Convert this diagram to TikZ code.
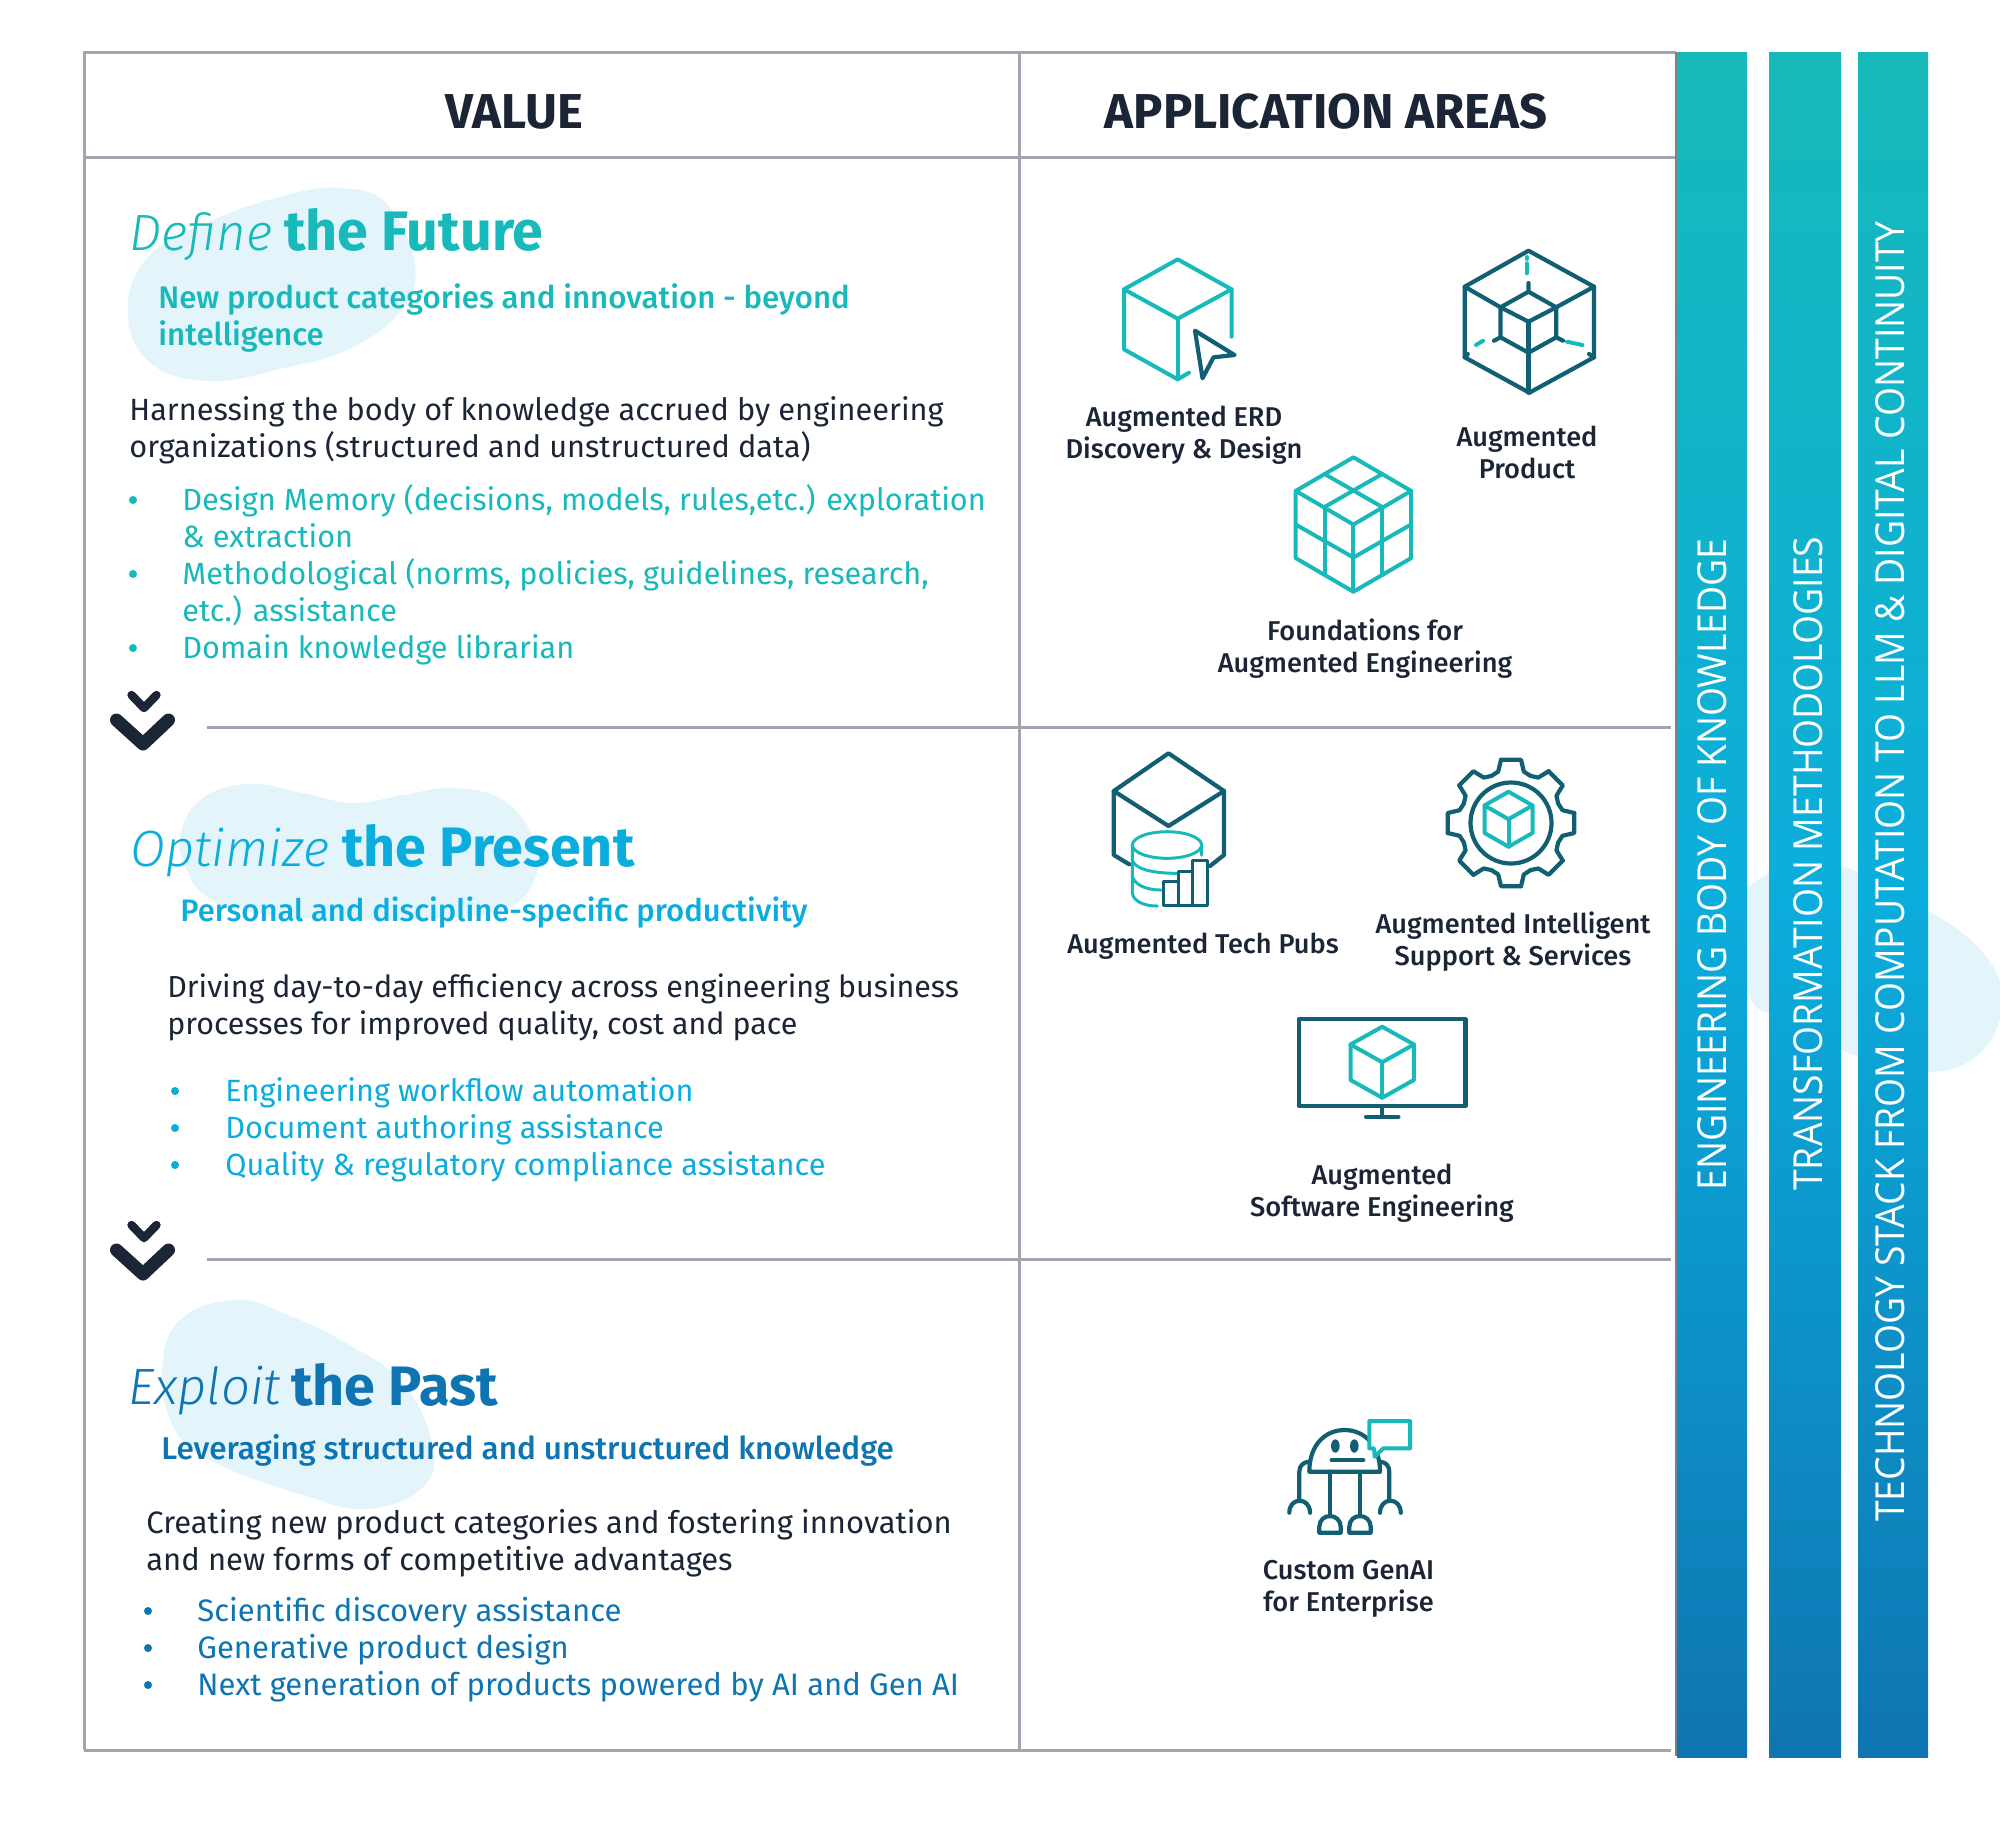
\documentclass[tikz,border=0pt]{standalone}
\usepackage{fontspec}
\setmainfont{Fira Sans}
\newfontfamily\lightfont{Fira Sans Light}
\newfontfamily\mediumfont{Fira Sans Medium}
\newfontfamily\barfont[FakeStretch=0.932]{Open Sans}
\definecolor{tealc}{HTML}{17B9BA}
\definecolor{bluec}{HTML}{0BADDC}
\definecolor{deepc}{HTML}{0F75B2}
\definecolor{inkc}{HTML}{1B2536}
\definecolor{petrolc}{HTML}{125F73}
\definecolor{gridc}{HTML}{A2A5AD}
\definecolor{blobc}{HTML}{E3F5FB}
\tikzset{
	gridline/.style={draw=gridc,line width=1.5pt},
	blob/.style={fill=blobc,draw=none},
	headtxt/.style={anchor=base,inner sep=0pt,text=inkc,font=\fontsize{24.5}{28}\selectfont\bfseries},
	titletxt/.style={anchor=base west,inner sep=0pt,font=\fontsize{25.5}{30}\selectfont},
	boldtitle/.style={font=\fontsize{27.8}{30}\selectfont\bfseries},
	subtxt/.style={anchor=base west,inner sep=0pt,align=left,font=\fontsize{#1}{18.5}\selectfont\mediumfont},
	subtxt/.default=15.6,
	bodytxt/.style={anchor=base west,inner sep=0pt,align=left,text=inkc,font=\fontsize{#1}{18.5}\selectfont},
	bodytxt/.default=15.35,
	pointtxt/.style={anchor=base west,inner sep=0pt,align=left,font=\fontsize{#1}{18.5}\selectfont},
	pointtxt/.default=15.35,
	icontxt/.style={anchor=base,inner sep=0pt,align=center,text=inkc,font=\fontsize{13.6}{16}\selectfont\mediumfont},
	bartxt/.style={anchor=base west,rotate=90,inner sep=0pt,text=white,font=\fontsize{20}{24}\selectfont\barfont},
	tealline/.style={draw=tealc,line width=2pt,line join=round,line cap=round},
	thinteal/.style={draw=tealc,line width=1.5pt,line join=round,line cap=round},
	petline/.style={draw=petrolc,line width=2.1pt,line join=round,line cap=round},
	thinpet/.style={draw=petrolc,line width=1.5pt,line join=round},
	gradbar/.style={top color=tealc,bottom color=deepc,middle color=bluec,draw=none}
}
\newcommand{\isocube}[5][tealline]{
	\draw[#1] ({#2},{#3}) -- ({#2+#4},{#3+.25*(#5-#3)}) -- ({#2+#4},{#3+.75*(#5-#3)}) -- ({#2},{#5}) -- ({#2-#4},{#3+.75*(#5-#3)}) -- ({#2-#4},{#3+.25*(#5-#3)}) -- cycle;
	\draw[#1] ({#2-#4},{#3+.25*(#5-#3)}) -- ({#2},{#3+.5*(#5-#3)}) -- ({#2+#4},{#3+.25*(#5-#3)});
	\draw[#1] ({#2},{#3+.5*(#5-#3)}) -- ({#2},{#5});
}
\begin{document}
\begin{tikzpicture}[x=0.5pt,y=-0.5pt]
	\useasboundingbox (0,0) rectangle (2000,1822);
	% blobs behind the text
	\fill[blob] plot[smooth cycle,tension=.7] coordinates {(128,316) (147,258) (213,220) (287,195) (340,188) (387,204) (415,266) (400,312) (347,350) (280,369) (213,381) (153,365)};
	\fill[blob] plot[smooth cycle,tension=.7] coordinates {(180,837) (200,800) (247,784) (303,793) (353,803) (403,795) (453,788) (503,800) (533,837) (537,873) (510,907) (453,918) (353,920) (253,913) (207,897) (187,870)};
	\fill[blob] plot[smooth cycle,tension=.7] coordinates {(162,1373) (180,1320) (237,1300) (293,1317) (353,1347) (403,1383) (431,1440) (425,1485) (368,1509) (303,1495) (220,1465) (177,1433)};
	\fill[blob] plot[smooth cycle,tension=.7] coordinates {(1743,933) (1748,887) (1827,863) (1927,910) (1983,953) (2002,1000) (1983,1050) (1933,1072) (1867,1060) (1783,1020) (1750,997)};
	% table
	\draw[gridline] (84,1750) -- (84,52) -- (1676,52);
	\draw[gridline] (84,157) -- (1676,157);
	\draw[gridline] (1019,52) -- (1019,1750);
	\draw[gridline] (207,727) -- (1671,727);
	\draw[gridline] (207,1259) -- (1671,1259);
	\draw[gridline] (84,1750) -- (1671,1750);
	% bars
	\draw[gridline,draw=gray] (1676,52) -- (1676,1756);
	\foreach \xa/\xb in {1677/1747,1769/1841,1858/1928}{
		\shade[gradbar] (\xa,52) rectangle (\xb,1757);
	}
	\node[bartxt] (engbar) at (1726,1191) {ENGINEERING BODY OF KNOWLEDGE};
	\node[bartxt] (trabar) at (1822,1191) {TRANSFORMATION METHODOLOGIES};
	\node[bartxt] (techbar) at (1904,1522) {TECHNOLOGY STACK FROM COMPUTATION TO LLM \& DIGITAL CONTINUITY};
	% header
	\node[headtxt] (valhead) at (514,128.5) {VALUE};
	\node[headtxt] (apphead) at (1326,128.5) {APPLICATION AREAS};
	% first row
	\node[titletxt,text=tealc] (futtitle) at (129,250) {\lightfont\itshape Define};
	\node[titletxt,boldtitle,text=tealc] (futbold) at (284,250) {the Future};
	\node[subtxt,text=tealc] (futsub) at (158,345) {New product categories and innovation - beyond\\intelligence};
	\node[bodytxt] (futbody) at (129,457.5) {Harnessing the body of knowledge accrued by engineering\\organizations (structured and unstructured data)};
	\node[pointtxt,text=tealc] (futpts) at (182,658.5) {Design Memory (decisions, models, rules,etc.) exploration\\\& extraction\\Methodological (norms, policies, guidelines, research,\\etc.) assistance\\Domain knowledge librarian};
	\foreach \yy in {500,574,648}{
		\fill[tealc] (133,\yy) circle (4);
	}
	% second row
	\node[titletxt,text=bluec] (pretitle) at (130,866) {\lightfont\itshape Optimize};
	\node[titletxt,boldtitle,text=bluec] (prebold) at (342,866) {the Present};
	\node[subtxt=15.5,text=bluec] (presub) at (180,921) {Personal and discipline-specific productivity};
	\node[bodytxt=15.2] (prebody) at (167,1034) {Driving day-to-day efficiency across engineering business\\processes for improved quality, cost and pace};
	\node[pointtxt,text=bluec] (prepts) at (225,1175) {Engineering workflow automation\\Document authoring assistance\\Quality \& regulatory compliance assistance};
	\foreach \yy in {1091,1128,1165}{
		\fill[bluec] (175,\yy) circle (4);
	}
	% third row
	\node[titletxt,text=deepc] (pastitle) at (128,1404) {\lightfont\itshape Exploit};
	\node[titletxt,boldtitle,text=deepc] (pasbold) at (291,1405) {the Past};
	\node[subtxt=15.75,text=deepc] (passub) at (161,1459) {Leveraging structured and unstructured knowledge};
	\node[bodytxt=15.47] (pasbody) at (146,1570) {Creating new product categories and fostering innovation\\and new forms of competitive advantages};
	\node[pointtxt=15.53,text=deepc] (paspts) at (197,1695.5) {Scientific discovery assistance\\Generative product design\\Next generation of products powered by AI and Gen AI};
	\foreach \yy in {1611,1648,1685}{
		\fill[deepc] (148,\yy) circle (4);
	}
	% chevrons
	\foreach \dy in {0,530}{
		\draw[inkc,line width=4.2pt,line cap=round,line join=round] (131.5,{695+\dy}) -- (144,{708+\dy}) -- (156.5,{695+\dy});
		\draw[inkc,line width=6.5pt,line cap=round,line join=round] (116.5,{720+\dy}) -- (143,{744+\dy}) -- (168.5,{720+\dy});
	}
	% cube and cursor
	\draw[tealline] (1231.5,336.7) -- (1231.5,289.3) -- (1177.7,259.3) -- (1124,289.3) -- (1124,349.3) -- (1177.7,379.3) -- (1189,372.7);
	\draw[tealline] (1124,289.3) -- (1177.7,318.7) -- (1231.5,289.3);
	\draw[tealline] (1177.7,318.7) -- (1177.7,379.3);
	\draw[petline] (1195,330.7) -- (1234.5,355) -- (1213.5,357.3) -- (1202.5,378.3) -- cycle;
	\node[icontxt] (erdlab) at (1184,458) {Augmented ERD\\Discovery \& Design};
	% cube inside a cube
	\begin{scope}[shift={(-3,0)}]
		\draw[petline] (1470.8,354) -- (1467.7,357.3) -- (1532.3,392.7) -- (1597,357.3) -- (1592,354);
		\draw[petline] (1467.7,357.3) -- (1467.7,286.7) -- (1531.5,250.7) -- (1597,286.7) -- (1597,357.3);
		\draw[petline] (1467.7,286.7) -- (1503.5,307.3);
		\draw[petline] (1597,286.7) -- (1559.2,307.3);
		\draw[petline] (1531.5,283) -- (1531.5,291.7) -- (1559.2,307.3) -- (1559.2,337.3) -- (1531.5,352.7) -- (1503.5,337.3) -- (1503.5,307.3) -- (1531.5,291.7);
		\draw[petline] (1503.5,307.3) -- (1531.5,321.7) -- (1559.2,307.3);
		\draw[petline] (1531.5,321.7) -- (1531.5,392.7);
		\draw[petline] (1497,340.7) -- (1503.5,337.3);
		\draw[petline] (1566,340.7) -- (1559.2,337.3);
		\draw[tealline] (1529.6,263.3) -- (1529.6,273.3);
		\draw[tealline] (1530,257) -- (1530,259);
		\draw[tealline] (1479,345) -- (1486,340.7);
		\draw[tealline] (1570,341.7) -- (1585.4,345);
	\end{scope}
	\node[icontxt] (prodlab) at (1527,478) {Augmented\\Product};
	% block cube
	\begin{scope}[shift={(-2,0)}]
		\isocube{1355.4}{457.3}{57.7}{591.7}
		\draw[tealline] (1326.5,474) -- (1384.2,507);
		\draw[tealline] (1384.2,474) -- (1326.5,507);
		\draw[tealline] (1326.5,507) -- (1326.5,575);
		\draw[tealline] (1384.2,507) -- (1384.2,575);
		\draw[tealline] (1297.7,524.5) -- (1355.4,557.5) -- (1413,524.5);
	\end{scope}
	\node[icontxt] (foundlab) at (1365,672) {Foundations for\\Augmented Engineering};
	% cube and database
	\draw[petline] (1129.2,864.3) -- (1113.8,855) -- (1113.8,791) -- (1168.5,753.3) -- (1224,791) -- (1224,855) -- (1210,866);
	\draw[petline] (1113.8,791) -- (1168.5,826) -- (1224,791);
	\draw[thinteal] (1167,845) circle [x radius=34.6,y radius=13.3];
	\draw[thinteal] (1132.3,845) -- (1132.3,892) .. controls (1132.3,900) and (1142,906) .. (1157.3,906);
	\draw[thinteal] (1132.3,860) .. controls (1134,868) and (1150,873.3) .. (1176.5,873.3);
	\draw[thinteal] (1132.3,876) .. controls (1134,884) and (1145,890) .. (1161,890);
	\draw[thinteal] (1201.6,845) -- (1201.6,855);
	\draw[thinpet,fill=white] (1163.8,881.7) rectangle (1178.5,905);
	\draw[thinpet,fill=white] (1178.5,871.7) rectangle (1192.7,905);
	\draw[thinpet,fill=white] (1192.7,860) rectangle (1207.3,905);
	\node[icontxt] (publab) at (1203,953) {Augmented Tech Pubs};
	% gear
	\begin{scope}[shift={(1511,823)}]
		\foreach \a in {0,45,...,315}{
			\draw[petline] ({\a-9}:64) -- ({\a+9}:64) -- ({\a+14}:53) -- ({\a+22.5}:51) -- ({\a+31}:53) -- ({\a+36}:64);
		}
		\draw[petline] (0,0) circle (40.5);
	\end{scope}
	\isocube{1508.5}{791.7}{24}{846.7}
	\node[icontxt] (suplab) at (1513,965) {Augmented Intelligent\\Support \& Services};
	% monitor
	\draw[petline] (1299,1019.3) rectangle (1465.5,1106);
	\draw[petline] (1382.2,1106) -- (1382.2,1116.7);
	\draw[petline] (1366,1116.7) -- (1398.4,1116.7);
	\isocube{1382.2}{1026.7}{31.7}{1097.7}
	\node[icontxt] (softlab) at (1382,1216) {Augmented\\Software Engineering};
	% robot
	\draw[petline] (1309.3,1471.7) .. controls (1309.3,1445) and (1325,1430) .. (1344.7,1430) .. controls (1364,1430) and (1380,1445) .. (1380,1471.7) -- cycle;
	\fill[petrolc] (1335.3,1446) circle [x radius=4.3,y radius=6.7];
	\fill[petrolc] (1354.3,1446) circle [x radius=4.3,y radius=6.7];
	\draw[petline] (1331.7,1460.3) -- (1363.3,1460.3);
	\draw[petline] (1330,1471.7) -- (1330,1516);
	\draw[petline] (1360,1471.7) -- (1360,1516);
	\foreach \xf in {1319.3,1349.3}{
		\draw[petline] (\xf,1532.7) -- (\xf,1527) .. controls (\xf,1520) and ({\xf+5},1516) .. ({\xf+10.7},1516) .. controls ({\xf+16},1516) and ({\xf+21.4},1520) .. ({\xf+21.4},1527) -- ({\xf+21.4},1532.7) -- cycle;
	}
	\draw[petline] (1309.3,1461.7) .. controls (1303,1462) and (1299.3,1466) .. (1299.3,1471.7) -- (1299.3,1500.7);
	\draw[petline] (1289.3,1512.7) .. controls (1289.3,1505) and (1294,1500.7) .. (1299.7,1500.7) .. controls (1305,1500.7) and (1310,1505) .. (1310,1512.7);
	\draw[petline] (1380,1461.7) .. controls (1386,1462) and (1389.3,1466) .. (1389.3,1471.7) -- (1389.3,1500.7);
	\draw[petline] (1380,1512.7) .. controls (1380,1505) and (1385,1500.7) .. (1390.3,1500.7) .. controls (1396,1500.7) and (1400.7,1505) .. (1400.7,1512.7);
	\draw[tealline,fill=white] (1369.3,1421) -- (1410,1421) -- (1410,1448.3) -- (1383.3,1448.3) -- (1374.7,1456.7) -- (1374,1448.3) -- (1369.3,1448.3) -- cycle;
	\node[icontxt] (botlab) at (1348.5,1611) {Custom GenAI\\for Enterprise};
\end{tikzpicture}
\end{document}
